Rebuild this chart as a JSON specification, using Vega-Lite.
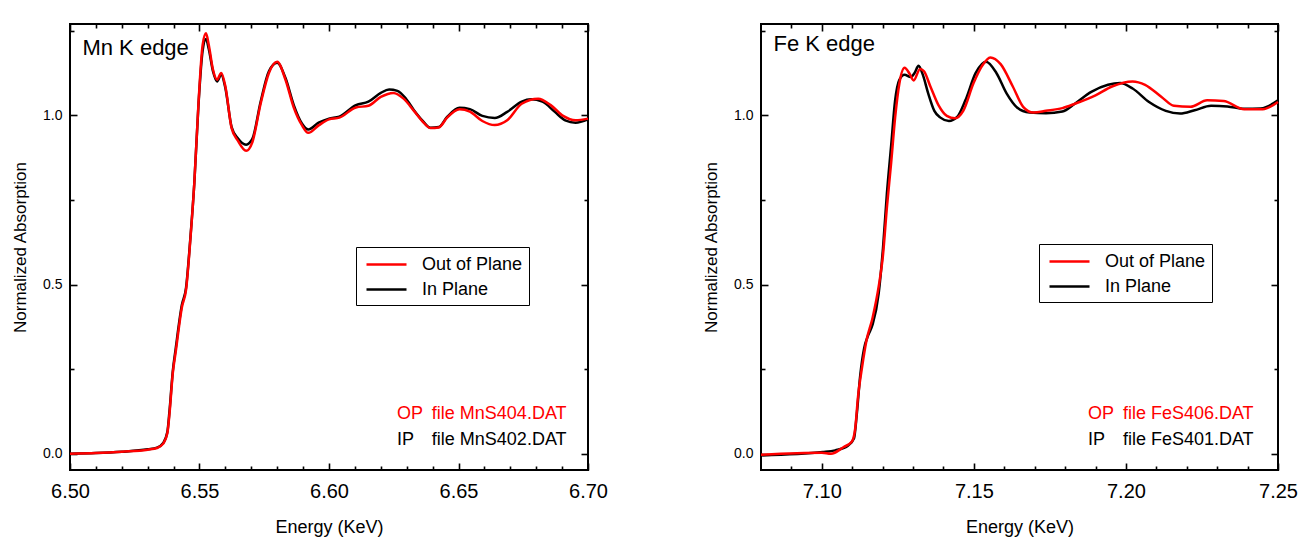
{
  "$schema": "https://vega.github.io/schema/vega-lite/v6.json",
  "padding": {"left": 10, "top": 22, "right": 0, "bottom": 0},
  "spacing": 92,
  "config": {
    "font": "Liberation Sans",
    "view": {"stroke": "black", "strokeWidth": 2},
    "axis": {"domain": false, "grid": false, "tickColor": "black", "tickWidth": 1.6, "labelColor": "black", "titleColor": "black", "titleFontWeight": "normal", "labelFlush": false, "labelOverlap": false, "labelFont": "Liberation Sans", "titleFont": "Liberation Sans"},
    "legend": {"labelFont": "Liberation Sans"}
  },
  "resolve": {"scale": {"color": "independent"}},
  "datasets": {
    "mn": [
      {"E": 6.5, "A": 0.0, "s": "In Plane"}, {"E": 6.51, "A": 0.002, "s": "In Plane"}, {"E": 6.52, "A": 0.006, "s": "In Plane"}, {"E": 6.53, "A": 0.013, "s": "In Plane"}, {"E": 6.5336, "A": 0.018, "s": "In Plane"}, {"E": 6.536, "A": 0.032, "s": "In Plane"}, {"E": 6.5376, "A": 0.065, "s": "In Plane"}, {"E": 6.5384, "A": 0.125, "s": "In Plane"}, {"E": 6.5397, "A": 0.245, "s": "In Plane"}, {"E": 6.5408, "A": 0.31, "s": "In Plane"}, {"E": 6.5432, "A": 0.44, "s": "In Plane"}, {"E": 6.5448, "A": 0.49, "s": "In Plane"}, {"E": 6.5464, "A": 0.63, "s": "In Plane"}, {"E": 6.548, "A": 0.8, "s": "In Plane"}, {"E": 6.5496, "A": 1.03, "s": "In Plane"}, {"E": 6.5512, "A": 1.19, "s": "In Plane"}, {"E": 6.5525, "A": 1.225, "s": "In Plane"}, {"E": 6.5536, "A": 1.195, "s": "In Plane"}, {"E": 6.5552, "A": 1.13, "s": "In Plane"}, {"E": 6.5568, "A": 1.1, "s": "In Plane"}, {"E": 6.5584, "A": 1.12, "s": "In Plane"}, {"E": 6.56, "A": 1.08, "s": "In Plane"}, {"E": 6.5624, "A": 0.965, "s": "In Plane"}, {"E": 6.5648, "A": 0.932, "s": "In Plane"}, {"E": 6.568, "A": 0.913, "s": "In Plane"}, {"E": 6.5704, "A": 0.93, "s": "In Plane"}, {"E": 6.5736, "A": 1.04, "s": "In Plane"}, {"E": 6.5768, "A": 1.13, "s": "In Plane"}, {"E": 6.58, "A": 1.155, "s": "In Plane"}, {"E": 6.5832, "A": 1.11, "s": "In Plane"}, {"E": 6.5864, "A": 1.03, "s": "In Plane"}, {"E": 6.5896, "A": 0.975, "s": "In Plane"}, {"E": 6.592, "A": 0.958, "s": "In Plane"}, {"E": 6.596, "A": 0.978, "s": "In Plane"}, {"E": 6.6, "A": 0.99, "s": "In Plane"}, {"E": 6.604, "A": 0.996, "s": "In Plane"}, {"E": 6.6104, "A": 1.03, "s": "In Plane"}, {"E": 6.6152, "A": 1.04, "s": "In Plane"}, {"E": 6.62, "A": 1.066, "s": "In Plane"}, {"E": 6.6232, "A": 1.076, "s": "In Plane"}, {"E": 6.6264, "A": 1.072, "s": "In Plane"}, {"E": 6.6296, "A": 1.05, "s": "In Plane"}, {"E": 6.6328, "A": 1.015, "s": "In Plane"}, {"E": 6.636, "A": 0.985, "s": "In Plane"}, {"E": 6.6392, "A": 0.963, "s": "In Plane"}, {"E": 6.6424, "A": 0.965, "s": "In Plane"}, {"E": 6.6456, "A": 0.995, "s": "In Plane"}, {"E": 6.6504, "A": 1.022, "s": "In Plane"}, {"E": 6.6544, "A": 1.018, "s": "In Plane"}, {"E": 6.6592, "A": 0.998, "s": "In Plane"}, {"E": 6.664, "A": 0.992, "s": "In Plane"}, {"E": 6.6688, "A": 1.01, "s": "In Plane"}, {"E": 6.6744, "A": 1.04, "s": "In Plane"}, {"E": 6.678, "A": 1.047, "s": "In Plane"}, {"E": 6.6824, "A": 1.04, "s": "In Plane"}, {"E": 6.6872, "A": 1.01, "s": "In Plane"}, {"E": 6.6912, "A": 0.985, "s": "In Plane"}, {"E": 6.6952, "A": 0.978, "s": "In Plane"}, {"E": 6.7, "A": 0.988, "s": "In Plane"},
      {"E": 6.5, "A": 0.0, "s": "Out of Plane"}, {"E": 6.51, "A": 0.002, "s": "Out of Plane"}, {"E": 6.52, "A": 0.006, "s": "Out of Plane"}, {"E": 6.53, "A": 0.012, "s": "Out of Plane"}, {"E": 6.5336, "A": 0.017, "s": "Out of Plane"}, {"E": 6.536, "A": 0.03, "s": "Out of Plane"}, {"E": 6.5376, "A": 0.061, "s": "Out of Plane"}, {"E": 6.5384, "A": 0.117, "s": "Out of Plane"}, {"E": 6.5397, "A": 0.239, "s": "Out of Plane"}, {"E": 6.5408, "A": 0.3, "s": "Out of Plane"}, {"E": 6.5432, "A": 0.433, "s": "Out of Plane"}, {"E": 6.5448, "A": 0.484, "s": "Out of Plane"}, {"E": 6.5464, "A": 0.626, "s": "Out of Plane"}, {"E": 6.548, "A": 0.8, "s": "Out of Plane"}, {"E": 6.5496, "A": 1.034, "s": "Out of Plane"}, {"E": 6.5512, "A": 1.207, "s": "Out of Plane"}, {"E": 6.5525, "A": 1.242, "s": "Out of Plane"}, {"E": 6.5536, "A": 1.207, "s": "Out of Plane"}, {"E": 6.5552, "A": 1.135, "s": "Out of Plane"}, {"E": 6.5568, "A": 1.105, "s": "Out of Plane"}, {"E": 6.5584, "A": 1.125, "s": "Out of Plane"}, {"E": 6.56, "A": 1.085, "s": "Out of Plane"}, {"E": 6.5624, "A": 0.962, "s": "Out of Plane"}, {"E": 6.5648, "A": 0.925, "s": "Out of Plane"}, {"E": 6.568, "A": 0.895, "s": "Out of Plane"}, {"E": 6.5704, "A": 0.92, "s": "Out of Plane"}, {"E": 6.5736, "A": 1.034, "s": "Out of Plane"}, {"E": 6.5768, "A": 1.125, "s": "Out of Plane"}, {"E": 6.58, "A": 1.158, "s": "Out of Plane"}, {"E": 6.5832, "A": 1.105, "s": "Out of Plane"}, {"E": 6.5864, "A": 1.023, "s": "Out of Plane"}, {"E": 6.5896, "A": 0.97, "s": "Out of Plane"}, {"E": 6.592, "A": 0.948, "s": "Out of Plane"}, {"E": 6.596, "A": 0.97, "s": "Out of Plane"}, {"E": 6.6, "A": 0.988, "s": "Out of Plane"}, {"E": 6.604, "A": 0.993, "s": "Out of Plane"}, {"E": 6.6104, "A": 1.023, "s": "Out of Plane"}, {"E": 6.6152, "A": 1.028, "s": "Out of Plane"}, {"E": 6.62, "A": 1.054, "s": "Out of Plane"}, {"E": 6.6248, "A": 1.066, "s": "Out of Plane"}, {"E": 6.6288, "A": 1.049, "s": "Out of Plane"}, {"E": 6.6328, "A": 1.013, "s": "Out of Plane"}, {"E": 6.636, "A": 0.983, "s": "Out of Plane"}, {"E": 6.6392, "A": 0.962, "s": "Out of Plane"}, {"E": 6.6424, "A": 0.964, "s": "Out of Plane"}, {"E": 6.6456, "A": 0.993, "s": "Out of Plane"}, {"E": 6.6504, "A": 1.018, "s": "Out of Plane"}, {"E": 6.6544, "A": 1.011, "s": "Out of Plane"}, {"E": 6.6592, "A": 0.983, "s": "Out of Plane"}, {"E": 6.664, "A": 0.971, "s": "Out of Plane"}, {"E": 6.6688, "A": 0.985, "s": "Out of Plane"}, {"E": 6.6744, "A": 1.034, "s": "Out of Plane"}, {"E": 6.6808, "A": 1.049, "s": "Out of Plane"}, {"E": 6.6856, "A": 1.03, "s": "Out of Plane"}, {"E": 6.6904, "A": 0.998, "s": "Out of Plane"}, {"E": 6.6952, "A": 0.985, "s": "Out of Plane"}, {"E": 6.7, "A": 0.99, "s": "Out of Plane"}
    ],
    "fe": [
      {"E": 7.08, "A": -0.005, "s": "In Plane"}, {"E": 7.1004, "A": 0.005, "s": "In Plane"}, {"E": 7.1044, "A": 0.01, "s": "In Plane"}, {"E": 7.1085, "A": 0.023, "s": "In Plane"}, {"E": 7.1106, "A": 0.046, "s": "In Plane"}, {"E": 7.1115, "A": 0.117, "s": "In Plane"}, {"E": 7.1126, "A": 0.229, "s": "In Plane"}, {"E": 7.1139, "A": 0.311, "s": "In Plane"}, {"E": 7.1153, "A": 0.351, "s": "In Plane"}, {"E": 7.1167, "A": 0.382, "s": "In Plane"}, {"E": 7.1187, "A": 0.474, "s": "In Plane"}, {"E": 7.1201, "A": 0.606, "s": "In Plane"}, {"E": 7.1214, "A": 0.769, "s": "In Plane"}, {"E": 7.1228, "A": 0.911, "s": "In Plane"}, {"E": 7.1241, "A": 1.044, "s": "In Plane"}, {"E": 7.1255, "A": 1.105, "s": "In Plane"}, {"E": 7.1272, "A": 1.12, "s": "In Plane"}, {"E": 7.1292, "A": 1.113, "s": "In Plane"}, {"E": 7.1305, "A": 1.125, "s": "In Plane"}, {"E": 7.1318, "A": 1.146, "s": "In Plane"}, {"E": 7.1332, "A": 1.12, "s": "In Plane"}, {"E": 7.135, "A": 1.064, "s": "In Plane"}, {"E": 7.137, "A": 1.013, "s": "In Plane"}, {"E": 7.139, "A": 0.993, "s": "In Plane"}, {"E": 7.1418, "A": 0.983, "s": "In Plane"}, {"E": 7.1445, "A": 0.995, "s": "In Plane"}, {"E": 7.1472, "A": 1.044, "s": "In Plane"}, {"E": 7.1506, "A": 1.125, "s": "In Plane"}, {"E": 7.154, "A": 1.158, "s": "In Plane"}, {"E": 7.1574, "A": 1.125, "s": "In Plane"}, {"E": 7.1608, "A": 1.064, "s": "In Plane"}, {"E": 7.1642, "A": 1.023, "s": "In Plane"}, {"E": 7.1683, "A": 1.008, "s": "In Plane"}, {"E": 7.1737, "A": 1.006, "s": "In Plane"}, {"E": 7.1791, "A": 1.011, "s": "In Plane"}, {"E": 7.1832, "A": 1.034, "s": "In Plane"}, {"E": 7.1886, "A": 1.069, "s": "In Plane"}, {"E": 7.1941, "A": 1.09, "s": "In Plane"}, {"E": 7.1981, "A": 1.095, "s": "In Plane"}, {"E": 7.2022, "A": 1.079, "s": "In Plane"}, {"E": 7.2076, "A": 1.039, "s": "In Plane"}, {"E": 7.2131, "A": 1.013, "s": "In Plane"}, {"E": 7.2178, "A": 1.005, "s": "In Plane"}, {"E": 7.2226, "A": 1.015, "s": "In Plane"}, {"E": 7.228, "A": 1.028, "s": "In Plane"}, {"E": 7.2334, "A": 1.026, "s": "In Plane"}, {"E": 7.2389, "A": 1.019, "s": "In Plane"}, {"E": 7.2443, "A": 1.02, "s": "In Plane"}, {"E": 7.25, "A": 1.044, "s": "In Plane"},
      {"E": 7.08, "A": -0.003, "s": "Out of Plane"}, {"E": 7.1, "A": 0.003, "s": "Out of Plane"}, {"E": 7.103, "A": 0.0, "s": "Out of Plane"}, {"E": 7.1072, "A": 0.02, "s": "Out of Plane"}, {"E": 7.1099, "A": 0.036, "s": "Out of Plane"}, {"E": 7.111, "A": 0.076, "s": "Out of Plane"}, {"E": 7.1119, "A": 0.168, "s": "Out of Plane"}, {"E": 7.1133, "A": 0.26, "s": "Out of Plane"}, {"E": 7.1146, "A": 0.331, "s": "Out of Plane"}, {"E": 7.1167, "A": 0.402, "s": "Out of Plane"}, {"E": 7.1187, "A": 0.494, "s": "Out of Plane"}, {"E": 7.1201, "A": 0.586, "s": "Out of Plane"}, {"E": 7.1214, "A": 0.728, "s": "Out of Plane"}, {"E": 7.1228, "A": 0.86, "s": "Out of Plane"}, {"E": 7.1241, "A": 0.993, "s": "Out of Plane"}, {"E": 7.1255, "A": 1.094, "s": "Out of Plane"}, {"E": 7.1272, "A": 1.14, "s": "Out of Plane"}, {"E": 7.1289, "A": 1.122, "s": "Out of Plane"}, {"E": 7.1302, "A": 1.103, "s": "Out of Plane"}, {"E": 7.1323, "A": 1.137, "s": "Out of Plane"}, {"E": 7.1336, "A": 1.13, "s": "Out of Plane"}, {"E": 7.1357, "A": 1.085, "s": "Out of Plane"}, {"E": 7.1384, "A": 1.029, "s": "Out of Plane"}, {"E": 7.1411, "A": 0.998, "s": "Out of Plane"}, {"E": 7.1438, "A": 0.991, "s": "Out of Plane"}, {"E": 7.1465, "A": 1.013, "s": "Out of Plane"}, {"E": 7.1499, "A": 1.095, "s": "Out of Plane"}, {"E": 7.1527, "A": 1.146, "s": "Out of Plane"}, {"E": 7.1554, "A": 1.171, "s": "Out of Plane"}, {"E": 7.1588, "A": 1.151, "s": "Out of Plane"}, {"E": 7.1628, "A": 1.085, "s": "Out of Plane"}, {"E": 7.1662, "A": 1.025, "s": "Out of Plane"}, {"E": 7.1696, "A": 1.008, "s": "Out of Plane"}, {"E": 7.1737, "A": 1.013, "s": "Out of Plane"}, {"E": 7.1791, "A": 1.021, "s": "Out of Plane"}, {"E": 7.1832, "A": 1.034, "s": "Out of Plane"}, {"E": 7.19, "A": 1.059, "s": "Out of Plane"}, {"E": 7.1954, "A": 1.085, "s": "Out of Plane"}, {"E": 7.2022, "A": 1.1, "s": "Out of Plane"}, {"E": 7.2063, "A": 1.09, "s": "Out of Plane"}, {"E": 7.2117, "A": 1.054, "s": "Out of Plane"}, {"E": 7.2158, "A": 1.028, "s": "Out of Plane"}, {"E": 7.2212, "A": 1.025, "s": "Out of Plane"}, {"E": 7.2267, "A": 1.044, "s": "Out of Plane"}, {"E": 7.2321, "A": 1.042, "s": "Out of Plane"}, {"E": 7.2389, "A": 1.018, "s": "Out of Plane"}, {"E": 7.245, "A": 1.018, "s": "Out of Plane"}, {"E": 7.25, "A": 1.039, "s": "Out of Plane"}
    ],
    "mnText": [
      {"E": 6.5048, "A": 1.178, "label": "Mn K edge", "g": "title"},
      {"E": 6.6263, "A": 0.1025, "label": "OP", "g": "OP"},
      {"E": 6.6397, "A": 0.1025, "label": "file MnS404.DAT", "g": "OP"},
      {"E": 6.6263, "A": 0.0266, "label": "IP", "g": "IP"},
      {"E": 6.6397, "A": 0.0266, "label": "file MnS402.DAT", "g": "IP"}
    ],
    "feText": [
      {"E": 7.0841, "A": 1.19, "label": "Fe K edge", "g": "title"},
      {"E": 7.1875, "A": 0.1025, "label": "OP", "g": "OP"},
      {"E": 7.199, "A": 0.1025, "label": "file FeS406.DAT", "g": "OP"},
      {"E": 7.1875, "A": 0.0266, "label": "IP", "g": "IP"},
      {"E": 7.199, "A": 0.0266, "label": "file FeS401.DAT", "g": "IP"}
    ]
  },
  "hconcat": [
    {
      "width": 518,
      "height": 446,
      "resolve": {"axis": {"x": "independent", "y": "independent"}},
      "layer": [
        {
          "data": {"name": "mn"},
          "transform": [{"filter": "datum.s == 'In Plane'"}],
          "mark": {"type": "line", "strokeWidth": 2.5, "interpolate": "monotone"},
          "encoding": {
            "x": {"field": "E", "type": "quantitative", "scale": {"domain": [6.5, 6.7], "nice": false, "zero": false},
              "axis": {"orient": "bottom", "title": "Energy (KeV)", "values": [6.5, 6.55, 6.6, 6.65, 6.7], "format": ".2f", "ticks": false,
                "labelFontSize": 20, "labelPadding": 11, "titleFontSize": 18, "titlePadding": 17}},
            "y": {"field": "A", "type": "quantitative", "scale": {"domain": [-0.048, 1.2696], "nice": false, "zero": false},
              "axis": {"orient": "left", "title": "Normalized Absorption", "values": [0, 0.5, 1], "format": ".1f", "ticks": false,
                "labelFontSize": 14, "labelPadding": 8, "titleFontSize": 17, "titlePadding": 13.5}},
            "color": {"field": "s", "type": "nominal", "scale": {"domain": ["Out of Plane", "In Plane"], "range": ["#ff0000", "#000000"]},
              "legend": {"orient": "none", "legendX": 286, "legendY": 223, "title": null, "symbolType": "M-2,0L2,0", "symbolSize": 400, "symbolStrokeWidth": 2.5, "symbolOffset": 13, "labelFontSize": 18, "labelOffset": 24, "padding": 6, "rowPadding": 4, "strokeColor": "black", "fillColor": "white", "labelColor": "black"}}
          }
        },
        {
          "data": {"name": "mn"},
          "transform": [{"filter": "datum.s == 'Out of Plane'"}],
          "mark": {"type": "line", "strokeWidth": 2.5, "interpolate": "monotone"},
          "encoding": {
            "x": {"field": "E", "type": "quantitative", "axis": {"orient": "bottom", "title": null, "labels": false, "ticks": true, "offset": -7, "tickSize": 7, "values": [6.5, 6.55, 6.6, 6.65, 6.7]}},
            "y": {"field": "A", "type": "quantitative", "axis": {"orient": "left", "title": null, "labels": false, "ticks": true, "offset": -7, "tickSize": 7, "values": [0, 0.5, 1]}},
            "color": {"field": "s", "type": "nominal", "legend": null}
          }
        },
        {
          "data": {"name": "mnText"},
          "transform": [{"filter": "datum.g == 'OP'"}],
          "mark": {"type": "text", "color": "#ff0000", "fontSize": 18, "align": "left", "baseline": "alphabetic"},
          "encoding": {
            "x": {"field": "E", "type": "quantitative", "axis": {"orient": "bottom", "title": null, "labels": false, "ticks": true, "offset": -4, "tickSize": 4, "values": [6.51, 6.52, 6.53, 6.54, 6.56, 6.57, 6.58, 6.59, 6.61, 6.62, 6.63, 6.64, 6.66, 6.67, 6.68, 6.69]}},
            "y": {"field": "A", "type": "quantitative", "axis": {"orient": "left", "title": null, "labels": false, "ticks": true, "offset": -4, "tickSize": 4, "values": [0.25, 0.75, 1.25]}},
            "text": {"field": "label"}
          }
        },
        {
          "data": {"name": "mnText"},
          "transform": [{"filter": "datum.g == 'IP'"}],
          "mark": {"type": "text", "color": "#000000", "fontSize": 18, "align": "left", "baseline": "alphabetic"},
          "encoding": {
            "x": {"field": "E", "type": "quantitative", "axis": {"orient": "top", "title": null, "labels": false, "ticks": true, "offset": -7, "tickSize": 7, "values": [6.5, 6.55, 6.6, 6.65, 6.7]}},
            "y": {"field": "A", "type": "quantitative", "axis": {"orient": "right", "title": null, "labels": false, "ticks": true, "offset": -7, "tickSize": 7, "values": [0, 0.5, 1]}},
            "text": {"field": "label"}
          }
        },
        {
          "data": {"name": "mnText"},
          "transform": [{"filter": "datum.g == 'title'"}],
          "mark": {"type": "text", "color": "#000000", "fontSize": 22, "align": "left", "baseline": "alphabetic"},
          "encoding": {
            "x": {"field": "E", "type": "quantitative", "axis": {"orient": "top", "title": null, "labels": false, "ticks": true, "offset": -4, "tickSize": 4, "values": [6.51, 6.52, 6.53, 6.54, 6.56, 6.57, 6.58, 6.59, 6.61, 6.62, 6.63, 6.64, 6.66, 6.67, 6.68, 6.69]}},
            "y": {"field": "A", "type": "quantitative", "axis": {"orient": "right", "title": null, "labels": false, "ticks": true, "offset": -4, "tickSize": 4, "values": [0.25, 0.75, 1.25]}},
            "text": {"field": "label"}
          }
        }
      ]
    },
    {
      "width": 517,
      "height": 446,
      "resolve": {"axis": {"x": "independent", "y": "independent"}},
      "layer": [
        {
          "data": {"name": "fe"},
          "transform": [{"filter": "datum.s == 'In Plane'"}],
          "mark": {"type": "line", "strokeWidth": 2.5, "interpolate": "monotone"},
          "encoding": {
            "x": {"field": "E", "type": "quantitative", "scale": {"domain": [7.08, 7.25], "nice": false, "zero": false},
              "axis": {"orient": "bottom", "title": "Energy (KeV)", "values": [7.1, 7.15, 7.2, 7.25], "format": ".2f", "ticks": false,
                "labelFontSize": 20, "labelPadding": 11, "titleFontSize": 18, "titlePadding": 17}},
            "y": {"field": "A", "type": "quantitative", "scale": {"domain": [-0.048, 1.2696], "nice": false, "zero": false},
              "axis": {"orient": "left", "title": "Normalized Absorption", "values": [0, 0.5, 1], "format": ".1f", "ticks": false,
                "labelFontSize": 14, "labelPadding": 8, "titleFontSize": 17, "titlePadding": 13.5}},
            "color": {"field": "s", "type": "nominal", "scale": {"domain": ["Out of Plane", "In Plane"], "range": ["#ff0000", "#000000"]},
              "legend": {"orient": "none", "legendX": 278, "legendY": 220, "title": null, "symbolType": "M-2,0L2,0", "symbolSize": 400, "symbolStrokeWidth": 2.5, "symbolOffset": 13, "labelFontSize": 18, "labelOffset": 24, "padding": 6, "rowPadding": 4, "strokeColor": "black", "fillColor": "white", "labelColor": "black"}}
          }
        },
        {
          "data": {"name": "fe"},
          "transform": [{"filter": "datum.s == 'Out of Plane'"}],
          "mark": {"type": "line", "strokeWidth": 2.5, "interpolate": "monotone"},
          "encoding": {
            "x": {"field": "E", "type": "quantitative", "axis": {"orient": "bottom", "title": null, "labels": false, "ticks": true, "offset": -7, "tickSize": 7, "values": [7.1, 7.15, 7.2, 7.25]}},
            "y": {"field": "A", "type": "quantitative", "axis": {"orient": "left", "title": null, "labels": false, "ticks": true, "offset": -7, "tickSize": 7, "values": [0, 0.5, 1]}},
            "color": {"field": "s", "type": "nominal", "legend": null}
          }
        },
        {
          "data": {"name": "feText"},
          "transform": [{"filter": "datum.g == 'OP'"}],
          "mark": {"type": "text", "color": "#ff0000", "fontSize": 18, "align": "left", "baseline": "alphabetic"},
          "encoding": {
            "x": {"field": "E", "type": "quantitative", "axis": {"orient": "bottom", "title": null, "labels": false, "ticks": true, "offset": -4, "tickSize": 4, "values": [7.09, 7.11, 7.12, 7.13, 7.14, 7.16, 7.17, 7.18, 7.19, 7.21, 7.22, 7.23, 7.24]}},
            "y": {"field": "A", "type": "quantitative", "axis": {"orient": "left", "title": null, "labels": false, "ticks": true, "offset": -4, "tickSize": 4, "values": [0.25, 0.75, 1.25]}},
            "text": {"field": "label"}
          }
        },
        {
          "data": {"name": "feText"},
          "transform": [{"filter": "datum.g == 'IP'"}],
          "mark": {"type": "text", "color": "#000000", "fontSize": 18, "align": "left", "baseline": "alphabetic"},
          "encoding": {
            "x": {"field": "E", "type": "quantitative", "axis": {"orient": "top", "title": null, "labels": false, "ticks": true, "offset": -7, "tickSize": 7, "values": [7.1, 7.15, 7.2, 7.25]}},
            "y": {"field": "A", "type": "quantitative", "axis": {"orient": "right", "title": null, "labels": false, "ticks": true, "offset": -7, "tickSize": 7, "values": [0, 0.5, 1]}},
            "text": {"field": "label"}
          }
        },
        {
          "data": {"name": "feText"},
          "transform": [{"filter": "datum.g == 'title'"}],
          "mark": {"type": "text", "color": "#000000", "fontSize": 22, "align": "left", "baseline": "alphabetic"},
          "encoding": {
            "x": {"field": "E", "type": "quantitative", "axis": {"orient": "top", "title": null, "labels": false, "ticks": true, "offset": -4, "tickSize": 4, "values": [7.09, 7.11, 7.12, 7.13, 7.14, 7.16, 7.17, 7.18, 7.19, 7.21, 7.22, 7.23, 7.24]}},
            "y": {"field": "A", "type": "quantitative", "axis": {"orient": "right", "title": null, "labels": false, "ticks": true, "offset": -4, "tickSize": 4, "values": [0.25, 0.75, 1.25]}},
            "text": {"field": "label"}
          }
        }
      ]
    }
  ]
}
